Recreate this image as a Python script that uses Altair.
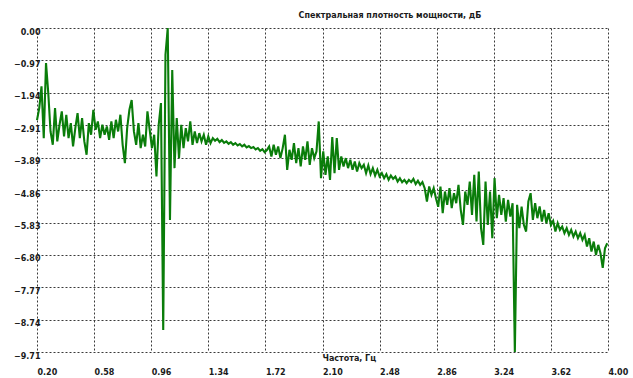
import altair as alt
import pandas as pd

# Power spectral density values (dB), one per frequency bin
psd_db = [
    -2.76, -2.40, -1.75, -3.30, -1.05, -1.95, -3.10, -3.50, -2.40, -3.40, -2.90,
    -2.50, -3.25, -2.60, -3.30, -2.85, -3.55, -3.00, -2.55, -3.30, -2.70, -3.40,
    -3.80, -2.85, -3.20, -2.45, -3.05,
    -2.80, -3.30, -2.90, -3.20, -2.95, -3.35, -2.80, -3.30, -2.75, -3.10, -2.60,
    -3.50, -4.05, -3.00, -2.45, -2.16, -3.10, -3.50, -2.85, -3.60, -3.20, -3.55,
    -2.50, -3.05,
    -3.60, -3.20, -4.45, -2.90, -2.25, -9.05, -0.80, 0.00, -5.75, -1.26, -4.20,
    -2.70, -3.90, -2.90, -3.60, -3.00,
    -3.40, -2.80, -3.50, -3.10, -3.45, -3.15, -3.40, -3.20, -3.50,
    -3.25, -3.45, -3.30, -3.38, -3.32, -3.42, -3.36, -3.44, -3.40, -3.47, -3.42,
    -3.50, -3.45, -3.52, -3.48, -3.55, -3.50, -3.58, -3.54, -3.60, -3.57, -3.64,
    -3.60, -3.68, -3.63, -3.72, -3.66,
    -3.55, -3.85, -3.50, -3.80, -3.55, -3.90, -3.60, -3.20, -4.25, -3.65, -3.95,
    -3.45, -4.05, -3.60, -4.15, -3.55, -3.95, -3.40, -4.10, -3.60, -3.90, -3.70,
    -2.80, -4.50,
    -3.70, -4.40, -3.85, -4.55, -3.27, -4.35, -3.30, -4.25, -3.85, -4.15, -3.90,
    -4.20, -3.95, -4.25, -4.00, -4.30, -4.05, -4.20, -4.10, -4.35, -4.12, -4.38,
    -4.20, -4.42, -4.25, -4.45,
    -4.35, -4.50, -4.38, -4.55, -4.42, -4.52, -4.45, -4.60, -4.50, -4.62, -4.55,
    -4.65, -4.55, -4.62, -4.52, -4.68, -4.58, -4.70, -4.62,
    -4.80, -5.20, -4.75, -5.00, -4.80, -5.10, -5.36, -4.75, -5.55, -4.90, -5.30,
    -4.80, -5.40, -4.95, -5.25, -4.70, -5.45, -5.90, -4.90, -5.30, -4.60,
    -5.60, -4.40, -5.80, -4.30, -6.00, -6.50, -4.60, -5.90, -4.90, -6.30, -4.50,
    -5.70, -5.00, -5.60, -5.10, -5.80, -5.15, -5.65, -5.25, -9.71, -5.30, -6.00,
    -5.35, -5.90,
    -6.10, -5.20, -4.95, -5.75, -5.25, -5.70, -5.35, -5.80, -5.45, -5.85, -5.55,
    -5.90, -5.78, -6.10, -5.85, -6.05, -5.95, -6.15, -6.00, -6.20, -6.05, -6.25,
    -6.10, -6.30, -6.15, -6.35, -6.20, -6.55, -6.30, -6.70, -6.40, -6.80, -6.50,
    -6.75, -7.19, -6.60, -6.45,
]

# frequency bins of the spectrum (Hz): start 0.20, bin width 0.015
freq_start = 0.20
freq_step = 0.015
freq = [round(freq_start + i * freq_step, 3) for i in range(len(psd_db))]

x_ticks = [0.20, 0.58, 0.96, 1.34, 1.72, 2.10, 2.48, 2.86, 3.24, 3.62, 4.00]
y_ticks = [0.00, -0.97, -1.94, -2.91, -3.89, -4.86, -5.83, -6.80, -7.77, -8.74, -9.71]

df = pd.DataFrame({"f": freq, "db": psd_db})

FONT = "DejaVu Sans"
GRID = "#3a3a3a"

chart = (
    alt.Chart(df)
    .mark_line(color="#0a7d0a", strokeWidth=2.1)
    .encode(
        x=alt.X(
            "f:Q",
            scale=alt.Scale(domain=[0.2, 4.0], nice=False, zero=False),
            axis=alt.Axis(
                values=x_ticks,
                format=".2f",
                title="Частота, Гц",
                titleX=285,
                titleY=6,
                titleAlign="left",
                titleBaseline="middle",
                titleFont=FONT,
                titleFontSize=8,
                titleFontWeight="bold",
                titleColor="#1a1a1a",
                labelFont=FONT,
                labelFontSize=8,
                labelFontWeight="bold",
                labelColor="#1a1a1a",
                labelAlign="left",
                labelBaseline="top",
                labelPadding=16,
                labelFlush=False,
                labelOverlap=False,
                ticks=False,
                domain=False,
                grid=True,
                gridDash=[2, 2],
                gridColor=GRID,
                gridWidth=1,
            ),
        ),
        y=alt.Y(
            "db:Q",
            scale=alt.Scale(domain=[-9.71, 0.0], nice=False, zero=False),
            axis=alt.Axis(
                values=y_ticks,
                format=".2f",
                title=None,
                labelFont=FONT,
                labelFontSize=8,
                labelFontWeight="bold",
                labelColor="#1a1a1a",
                labelAlign="right",
                labelBaseline="top",
                labelPadding=-3,
                labelFlush=False,
                labelOverlap=False,
                ticks=False,
                domain=False,
                grid=True,
                gridDash=[2, 2],
                gridColor=GRID,
                gridWidth=1,
            ),
        ),
    )
    .properties(
        width=571,
        height=324,
        autosize=alt.AutoSizeParams(type="none"),
        padding={"left": 37, "top": 28, "right": 25, "bottom": 26},
        background="white",
        title=alt.TitleParams(
            text="Спектральная плотность мощности, дБ",
            anchor="start",
            dx=285,
            offset=-4,
            baseline="bottom",
            font=FONT,
            fontSize=8,
            fontWeight="bold",
            color="#1a1a1a",
        ),
    )
    .configure_view(stroke=None)
)

chart.save("out.html", embed_options={"renderer": "svg", "actions": False})
